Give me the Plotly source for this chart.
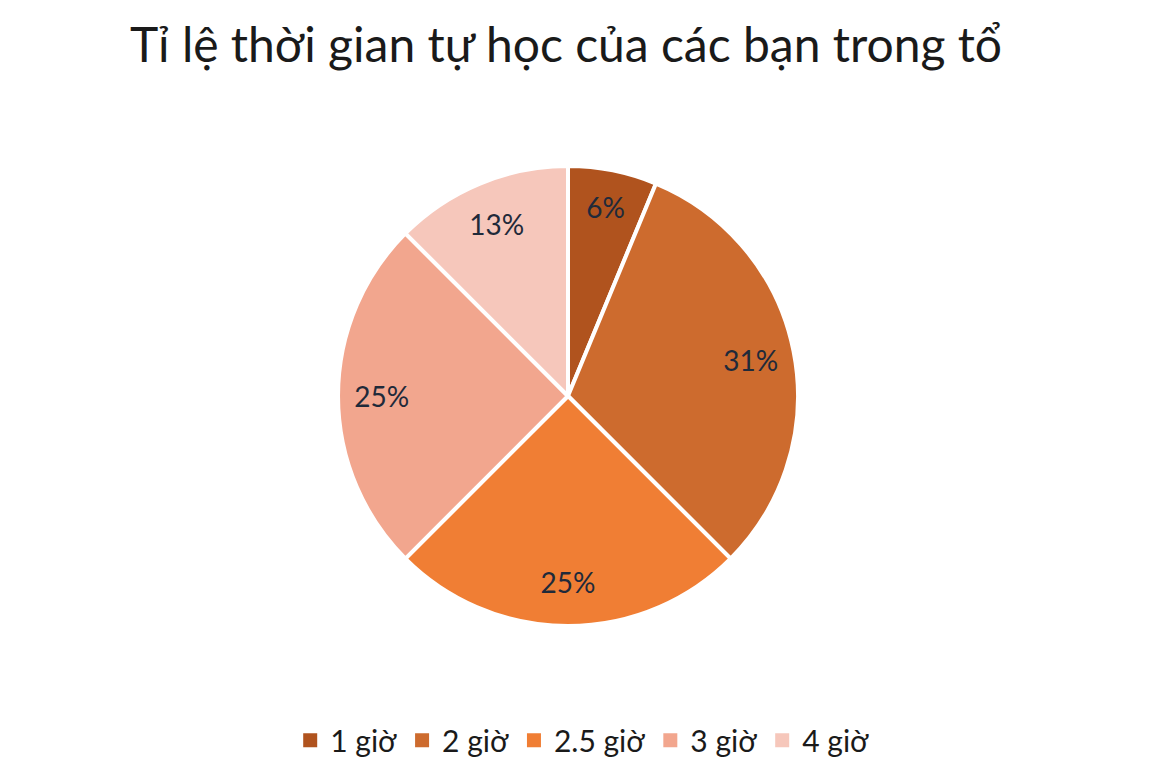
import plotly.graph_objects as go

# --- du lieu ---
labels = ["1 giờ", "2 giờ", "2.5 giờ", "3 giờ", "4 giờ"]
so_ban = [1, 5, 4, 4, 2]  # so ban -> 6%, 31%, 25%, 25%, 13%
colors = ["#B0531E", "#CD6B2E", "#F07E34", "#F2A68E", "#F6C7BB"]

FONT = "Lato"
DOMAIN = dict(x=[0.2845, 0.681], y=[0.1974, 0.7948])

fig = go.Figure()

# hinh tron chinh
fig.add_trace(go.Pie(
    labels=labels,
    values=so_ban,
    sort=False,
    direction="clockwise",
    rotation=0,
    showlegend=False,
    marker=dict(colors=colors, line=dict(color="white", width=4)),
    textinfo="none",
    hoverinfo="label+percent",
    domain=DOMAIN,
))

# lop trong suot chi de dat nhan % gan mep ngoai
fig.add_trace(go.Pie(
    labels=labels,
    values=so_ban,
    sort=False,
    direction="clockwise",
    rotation=0,
    hole=0.62,
    showlegend=False,
    marker=dict(colors=["rgba(0,0,0,0)"] * len(labels), line=dict(width=0)),
    texttemplate="%{percent:.0%}",
    textposition="inside",
    insidetextorientation="horizontal",
    textfont=dict(family=FONT, size=28, color="#1F2A3A"),
    hoverinfo="skip",
    domain=DOMAIN,
))

# chu giai: o vuong lon hon mac dinh cua pie
for lab, col in zip(labels, colors):
    fig.add_trace(go.Scatter(
        x=[None], y=[None], mode="markers", name=lab,
        marker=dict(symbol="square", size=14, color=col),
        hoverinfo="skip",
    ))

fig.update_layout(
    width=1160, height=770,
    margin=dict(l=0, r=0, t=0, b=0),
    paper_bgcolor="white",
    plot_bgcolor="white",
    xaxis=dict(visible=False),
    yaxis=dict(visible=False),
    title=dict(text="Tỉ lệ thời gian tự học của các bạn trong tổ",
               x=0.481, xanchor="center", y=0.952, yanchor="middle",
               font=dict(family=FONT, size=48, color="#1A1A1A")),
    legend=dict(orientation="h", x=0.495, xanchor="center", y=0.049, yanchor="middle",
                font=dict(family=FONT, size=30, color="#1A1A1A"),
                itemwidth=30, itemsizing="trace", traceorder="normal"),
)

fig.write_html("out.html")
